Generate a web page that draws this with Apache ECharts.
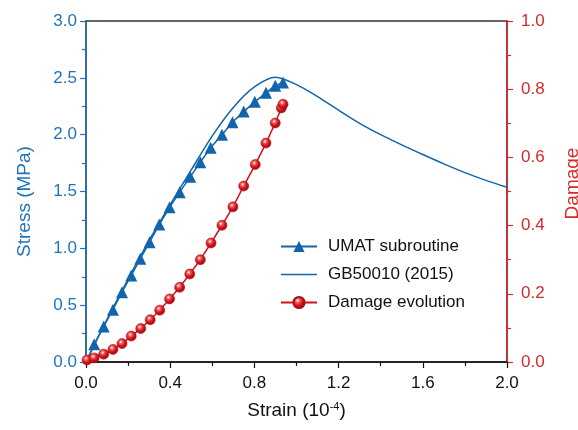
<!DOCTYPE html>
<html>
<head>
<meta charset="utf-8">
<script src="https://cdn.jsdelivr.net/npm/echarts@6/dist/echarts.min.js"></script>
<style>
html,body{margin:0;padding:0;background:#fff;}
#chart{width:578px;height:430px;}
</style>
</head>
<body>
<div id="chart"></div>
<script>
const umatStrain = [0, 0.039, 0.084, 0.128, 0.171, 0.215, 0.258, 0.302, 0.348, 0.397, 0.445, 0.495, 0.543, 0.592, 0.646, 0.696, 0.749, 0.802, 0.855, 0.899, 0.936];
const umatStress = [0, 0.156, 0.313, 0.46, 0.614, 0.761, 0.908, 1.054, 1.209, 1.361, 1.494, 1.629, 1.757, 1.884, 2.0, 2.109, 2.203, 2.289, 2.368, 2.431, 2.46];

const gbStrain = [0, 0.1, 0.2, 0.3, 0.4, 0.5, 0.6, 0.7, 0.8, 0.9, 1.0, 1.1, 1.2, 1.3, 1.4, 1.5, 1.6, 1.7, 1.8, 1.9, 2.0];
const gbStress = [0, 0.375, 0.73, 1.07, 1.385, 1.69, 1.99, 2.24, 2.42, 2.505, 2.44, 2.335, 2.215, 2.10, 2.0, 1.91, 1.825, 1.743, 1.666, 1.598, 1.538];

const damageStrain = [0.005, 0.039, 0.084, 0.128, 0.171, 0.215, 0.26, 0.305, 0.35, 0.397, 0.445, 0.493, 0.543, 0.594, 0.646, 0.698, 0.749, 0.804, 0.855, 0.899, 0.928, 0.936];
const damageValue = [0.006, 0.012, 0.023, 0.037, 0.054, 0.076, 0.098, 0.124, 0.152, 0.185, 0.219, 0.258, 0.30, 0.349, 0.401, 0.455, 0.516, 0.579, 0.642, 0.701, 0.745, 0.756];

const xTicks = ['0.0', '0.4', '0.8', '1.2', '1.6', '2.0'];

const BLUE = '#1165ad';
const BLUE_AX = '#1f74b8';
const RED = '#d0121b';
const RED_AX = '#d32a2a';
const FONT = '"Liberation Sans", Arial, sans-serif';

function pairs(xs, ys) { return xs.map((x, i) => [x, ys[i]]); }

const umatData = pairs(umatStrain, umatStress).map((p, i) => i === 0 ? { value: p, symbol: 'none' } : p);

const chart = echarts.init(document.getElementById('chart'), null, { renderer: 'canvas' });
chart.setOption({
  animation: false,
  backgroundColor: '#fff',
  textStyle: { fontFamily: FONT },
  grid: { left: 86, right: 71, top: 21, bottom: 68, outerBoundsMode: 'none', containLabel: false,
          show: true, borderColor: '#333', borderWidth: 1.5, backgroundColor: 'transparent' },
  legend: {
    orient: 'vertical', left: 275, top: 232,
    itemWidth: 36, itemHeight: 14, itemGap: 9,
    textStyle: { fontFamily: FONT, fontSize: 17, color: '#111', padding: [0, 0, 0, 6], lineHeight: 19 },
    data: [
      'UMAT subroutine',
      { name: 'GB50010 (2015)', icon: 'path://M0,0L36,0L36,1.6L0,1.6Z' },
      'Damage evolution'
    ]
  },
  xAxis: {
    type: 'value', min: 0, max: 2.0, interval: 0.4,
    name: 'Strain (10{sup|-4})', nameLocation: 'middle', nameGap: 39,
    nameTextStyle: {
      fontFamily: FONT, fontSize: 19, color: '#111',
      rich: { sup: { fontSize: 11, fontFamily: FONT, color: '#111', padding: [0, 0, 9, 0] } }
    },
    axisLine: { show: true, lineStyle: { color: '#111', width: 1.5 } },
    axisTick: { show: true, length: 6, lineStyle: { color: '#111', width: 1.2 } },
    minorTick: { show: true, splitNumber: 2, length: 4, lineStyle: { color: '#111', width: 1.2 } },
    splitLine: { show: false },
    axisLabel: { fontFamily: FONT, fontSize: 17, color: '#111', margin: 13, formatter: v => xTicks[Math.round(v / 0.4)] }
  },
  yAxis: [
    {
      type: 'value', min: 0, max: 3.0, interval: 0.5, position: 'left',
      name: 'Stress (MPa)', nameLocation: 'middle', nameGap: 52, nameRotate: 90,
      nameTextStyle: { fontFamily: FONT, fontSize: 19, color: BLUE_AX, padding: [0, 20, 0, 0] },
      axisLine: { show: true, lineStyle: { color: BLUE_AX, width: 1.5 } },
      axisTick: { show: true, length: 6, lineStyle: { color: BLUE_AX, width: 1.2 } },
      minorTick: { show: true, splitNumber: 2, length: 4, lineStyle: { color: BLUE_AX, width: 1.2 } },
      splitLine: { show: false },
      axisLabel: { fontFamily: FONT, fontSize: 17, color: BLUE_AX, margin: 9, formatter: v => v.toFixed(1) }
    },
    {
      type: 'value', min: 0, max: 1.0, interval: 0.2, position: 'right',
      name: 'Damage', nameLocation: 'middle', nameGap: 56, nameRotate: 90,
      nameTextStyle: { fontFamily: FONT, fontSize: 19, color: RED_AX, padding: [0, 0, 0, 16] },
      axisLine: { show: true, lineStyle: { color: RED_AX, width: 1.5 } },
      axisTick: { show: true, length: 6, lineStyle: { color: RED_AX, width: 1.2 } },
      minorTick: { show: true, splitNumber: 2, length: 4, lineStyle: { color: RED_AX, width: 1.2 } },
      splitLine: { show: false },
      axisLabel: { fontFamily: FONT, fontSize: 17, color: RED_AX, margin: 14, formatter: v => v.toFixed(1) }
    }
  ],
  series: [
    {
      name: 'UMAT subroutine', type: 'line', yAxisIndex: 0,
      data: umatData,
      symbol: 'triangle', symbolSize: 12, showAllSymbol: true,
      itemStyle: { color: BLUE },
      lineStyle: { color: BLUE, width: 1.5 },
      z: 3
    },
    {
      name: 'GB50010 (2015)', type: 'line', yAxisIndex: 0,
      data: pairs(gbStrain, gbStress),
      smooth: 0.3, symbol: 'none', showSymbol: false,
      itemStyle: { color: BLUE },
      lineStyle: { color: BLUE, width: 1.5 },
      z: 2
    },
    {
      name: 'Damage evolution', type: 'line', yAxisIndex: 1,
      data: pairs(damageStrain, damageValue),
      symbol: 'circle', symbolSize: 10, showAllSymbol: true,
      itemStyle: {
        color: {
          type: 'radial', x: 0.4, y: 0.35, r: 0.65,
          colorStops: [
            { offset: 0, color: '#ffffff' },
            { offset: 0.25, color: '#f06060' },
            { offset: 0.6, color: '#d0121b' },
            { offset: 1, color: '#a00a10' }
          ]
        },
        borderColor: '#b20d14', borderWidth: 0.6
      },
      lineStyle: { color: RED, width: 1.5 },
      z: 4
    }
  ]
});
</script>
</body>
</html>
